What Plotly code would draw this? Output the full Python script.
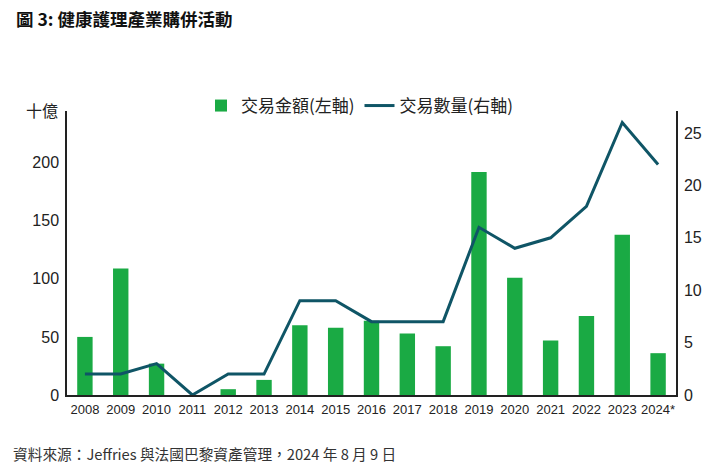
import plotly.graph_objects as go

years = ["2008", "2009", "2010", "2011", "2012", "2013", "2014", "2015", "2016",
         "2017", "2018", "2019", "2020", "2021", "2022", "2023", "2024*"]
deal_value = [50, 109, 27, 0, 5, 13, 60, 58, 64, 53, 42, 192, 101, 47, 68, 138, 36]
deal_count = [2, 2, 3, 0, 2, 2, 9, 9, 7, 7, 7, 16, 14, 15, 18, 26, 22]

left_ticks = [0, 50, 100, 150, 200]
right_ticks = [0, 5, 10, 15, 20, 25]

GREEN = "#1aaa44"
TEAL = "#0f5566"
CJK = "Noto Sans CJK TC"
LAT = "Liberation Sans"

W, H = 725, 476
L, R, T, B = 67, 49, 111, 81
PW, PH = W - L - R, H - T - B


def px_x(x):
    return (x - L) / PW


def px_y(y):
    return (H - B - y) / PH


fig = go.Figure()
fig.add_trace(go.Bar(x=years, y=deal_value, name="交易金額(左軸)",
                     marker=dict(color=GREEN, line=dict(width=0)), yaxis="y"))
fig.add_trace(go.Scatter(x=years, y=deal_count, name="交易數量(右軸)", mode="lines",
                         line=dict(color=TEAL, width=3), yaxis="y2"))

fig.update_layout(
    width=W, height=H,
    margin=dict(l=L, r=R, t=T, b=B, autoexpand=False),
    paper_bgcolor="white", plot_bgcolor="white",
    bargap=0.57,
    font=dict(family=LAT, color="#222222"),
    showlegend=True,
    legend=dict(orientation="h", x=0.5 - 12 / PW, xanchor="center", y=px_y(106), yanchor="middle",
                font=dict(family=CJK, size=17, color="#222222"),
                itemwidth=30, bgcolor="rgba(0,0,0,0)"),
    xaxis=dict(type="category", showline=True, linecolor="#222222", linewidth=1.5,
               showgrid=False, ticks="", tickfont=dict(family=LAT, size=13, color="#222222"),
               ticklabelstandoff=2),
    yaxis=dict(range=[0, 244.5], tickvals=left_ticks, showline=True, linecolor="#222222",
               linewidth=1.5, showgrid=False, zeroline=False, ticks="",
               tickfont=dict(family=LAT, size=16, color="#222222"), ticklabelstandoff=3),
    yaxis2=dict(range=[0, 27.1], tickvals=right_ticks, overlaying="y", side="right",
                showline=True, linecolor="#222222", linewidth=1.5, showgrid=False,
                zeroline=False, ticks="", tickfont=dict(family=LAT, size=16, color="#222222"),
                ticklabelstandoff=3),
)

fig.add_annotation(text="<b>圖 3: 健康護理產業購併活動</b>", xref="paper", yref="paper",
                   x=px_x(14), y=px_y(18), xanchor="left", yanchor="middle", showarrow=False,
                   font=dict(family=CJK, size=17.5, color="#111111"))
fig.add_annotation(text="十億", xref="paper", yref="paper",
                   x=px_x(24), y=px_y(110), xanchor="left", yanchor="middle", showarrow=False,
                   font=dict(family=CJK, size=16, color="#222222"))
fig.add_annotation(text="資料來源：Jeffries 與法國巴黎資產管理，2024 年 8 月 9 日", xref="paper", yref="paper",
                   x=px_x(11), y=px_y(453), xanchor="left", yanchor="middle", showarrow=False,
                   font=dict(family=CJK, size=14.7, color="#333333"))

fig.write_html("out.html", config={"displayModeBar": False},
               post_script="document.body.style.margin='0';")
